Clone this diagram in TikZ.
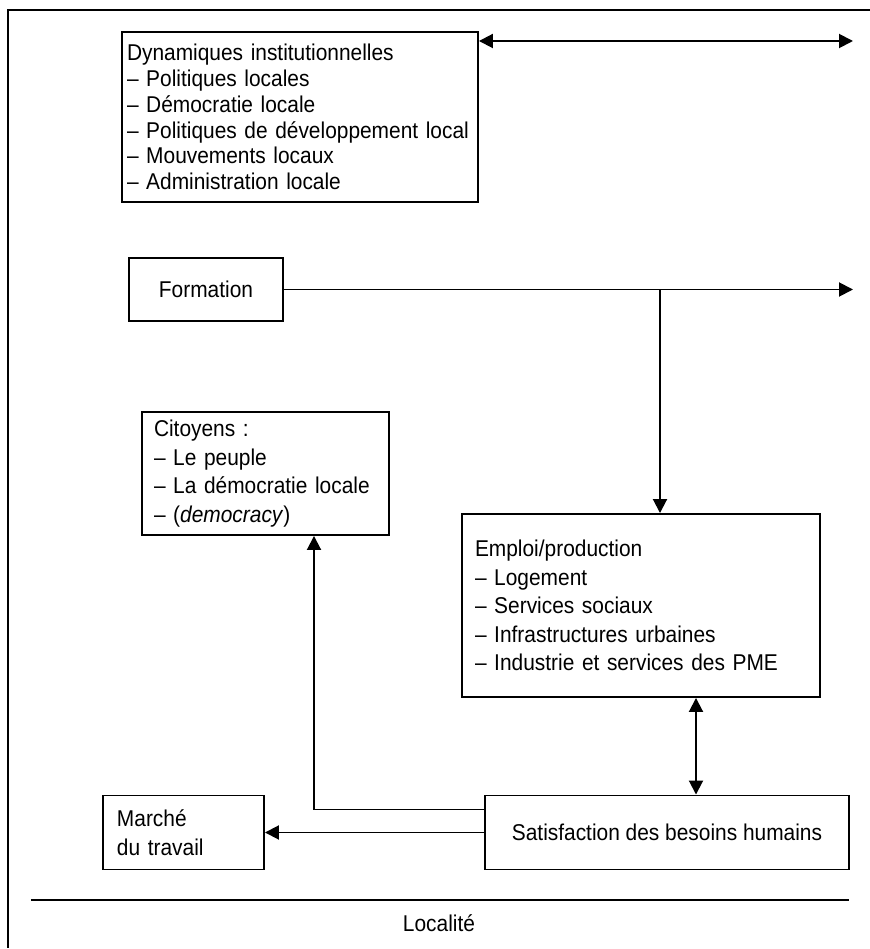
\documentclass[tikz,border=0pt]{standalone}
\usepackage{fontspec}
\setmainfont{Liberation Sans}[FakeStretch=0.915]
\usetikzlibrary{arrows.meta, positioning}
\tikzset{
  every picture/.style={line width=1.1pt},
  box/.style={draw, align=left, inner xsep=0.26cm, inner ysep=0pt, font=\fontsize{13}{16.2}\selectfont},
  arrow/.style={-{Triangle[length=0.28cm, width=0.28cm]}},
  dblarrow/.style={{Triangle[length=0.28cm, width=0.28cm]}-{Triangle[length=0.28cm, width=0.28cm]}},
  label/.style={font=\fontsize{13}{16.2}\selectfont},
}

\begin{document}
\begin{tikzpicture}
  \useasboundingbox (0,0) rectangle (17.4,18.98);
  % frame
  \draw (0.16,0.02) -- (0.16,18.78) -- (17.4,18.78);
  % boxes
  \node[box, inner xsep=0.1cm, text width=6.92cm, minimum height=3.4cm, font=\fontsize{13}{14.7}\selectfont] (dyn) at (6.0,16.64)
    {Dynamiques institutionnelles\\– Politiques locales\\– Démocratie locale\\– Politiques de développement local\\– Mouvements locaux\\– Administration locale};
  \node[box, align=center, minimum width=3.08cm, minimum height=1.26cm] (form) at (4.12,13.19) {Formation};
  \node[box, inner xsep=0.24cm, text width=4.46cm, minimum height=2.46cm] (citoy) at (5.31,9.51)
    {Citoyens :\\– Le peuple\\– La démocratie locale\\– (\textit{democracy})};
  \node[box, text width=6.64cm, minimum height=3.66cm] (emploi) at (12.82,6.87)
    {Emploi/production\\– Logement\\– Services sociaux\\– Infrastructures urbaines\\– Industrie et services des PME};
  \node[box, align=center, minimum width=7.28cm, minimum height=1.48cm] (satisf) at (13.34,2.33) {Satisfaction des besoins humains};
  \node[box, inner xsep=0.28cm, text width=2.66cm, minimum height=1.48cm] (march) at (3.67,2.33) {Marché\\du travail};
  % links
  \coordinate (dynend) at (17.06,18.16);
  \draw[dblarrow] (dyn.east |- dynend) -- (dynend);
  \coordinate (formend) at (17.06,13.19);
  \draw[arrow] (form.east) -- (formend);
  \coordinate (split) at (13.2,13.19);
  \draw[arrow] (split) -- (split |- emploi.north);
  \coordinate (link) at (13.92,4);
  \draw[dblarrow] (link |- emploi.south) -- (link |- satisf.north);
  \draw[arrow] ([yshift=0.46cm]satisf.west) -| ([xshift=0.97cm]citoy.south);
  \draw[arrow] (satisf.west) -- (march.east);
  % locality
  \draw (0.62,0.98) -- (16.98,0.98);
  \node[label] (loc) at (8.78,0.52) {Localité};
\end{tikzpicture}
\end{document}
